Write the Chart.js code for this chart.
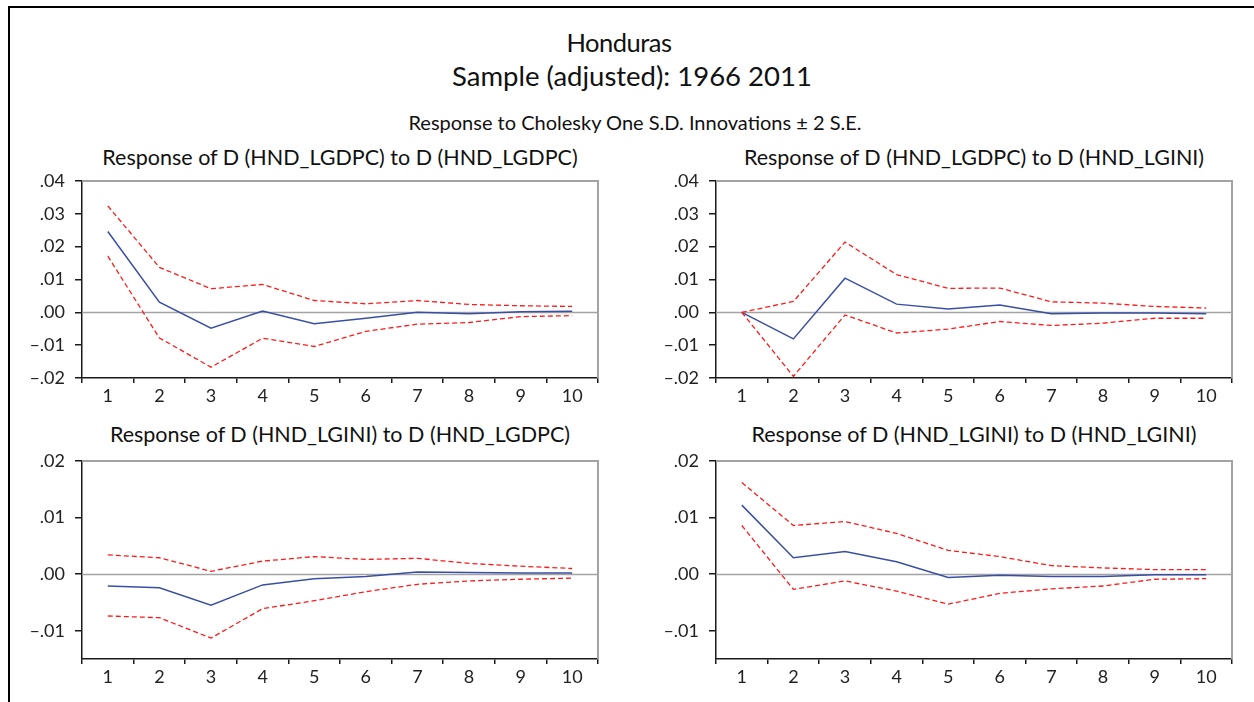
<!DOCTYPE html>
<html lang="en">
<head>
<meta charset="UTF-8">
<title>Honduras – Impulse responses</title>
<script src="https://cdn.jsdelivr.net/npm/chart.js"></script>
<style>
body{margin:0;width:1254px;height:702px;background:#fff;font-family:Lato,"Open Sans",sans-serif;color:#111;position:relative;overflow:hidden}
.frame{position:absolute;left:8px;top:6px;width:1300px;height:760px;border-left:2px solid #000;border-top:2px solid #000}
.txt{position:absolute;width:800px;text-align:center;white-space:nowrap}
.main{font-size:25.5px;line-height:30px;letter-spacing:-0.5px}
.sample{font-size:27.5px;line-height:30px}
.sub{font-size:20px;line-height:24px}
.ptitle{font-size:21.5px;line-height:26px}
canvas{position:absolute}
</style>
</head>
<body>
<div class="frame"></div>

<div class="txt main" style="left:219px;top:27px">Honduras</div>
<div class="txt sample" style="left:232px;top:61px">Sample (adjusted): 1966 2011</div>
<div class="txt sub" style="left:235px;top:110px">Response to Cholesky One S.D. Innovations ± 2 S.E.</div>

<div class="txt ptitle" style="left:-60px;top:144px">Response of D (HND_LGDPC) to D (HND_LGDPC)</div>
<div class="txt ptitle" style="left:574px;top:144px">Response of D (HND_LGDPC) to D (HND_LGINI)</div>
<div class="txt ptitle" style="left:-60px;top:421px">Response of D (HND_LGINI) to D (HND_LGDPC)</div>
<div class="txt ptitle" style="left:574px;top:421px">Response of D (HND_LGINI) to D (HND_LGINI)</div>

<canvas id="c1" width="620" height="240" style="left:0;top:170px"></canvas>
<canvas id="c2" width="620" height="240" style="left:634px;top:170px"></canvas>
<canvas id="c3" width="620" height="240" style="left:0;top:450px"></canvas>
<canvas id="c4" width="620" height="240" style="left:634px;top:450px"></canvas>

<script>
// horizon (periods after the shock)
const periods = ['1','2','3','4','5','6','7','8','9','10'];

// D(HND_LGDPC) to D(HND_LGDPC)
const gdpGdp    = [0.0246, 0.0031, -0.0048, 0.0004, -0.0035, -0.0018, 0.0000, -0.0004, 0.0002, 0.0003];
const gdpGdpUp  = [0.0324, 0.0137, 0.0072, 0.0085, 0.0036, 0.0026, 0.0036, 0.0024, 0.0020, 0.0018];
const gdpGdpLo  = [0.0171, -0.0078, -0.0167, -0.0079, -0.0104, -0.0058, -0.0036, -0.0031, -0.0013, -0.0010];

// D(HND_LGDPC) to D(HND_LGINI)
const gdpGini   = [0.0000, -0.0081, 0.0104, 0.0025, 0.0010, 0.0022, -0.0004, -0.0002, -0.0002, -0.0004];
const gdpGiniUp = [0.0000, 0.0033, 0.0214, 0.0115, 0.0073, 0.0074, 0.0032, 0.0028, 0.0018, 0.0013];
const gdpGiniLo = [0.0000, -0.0195, -0.0008, -0.0063, -0.0051, -0.0028, -0.0040, -0.0033, -0.0018, -0.0018];

// D(HND_LGINI) to D(HND_LGDPC)
const giniGdp   = [-0.0021, -0.0024, -0.0055, -0.0019, -0.0008, -0.0004, 0.0004, 0.0003, 0.0002, 0.0002];
const giniGdpUp = [0.0034, 0.0029, 0.0005, 0.0023, 0.0031, 0.0026, 0.0028, 0.0019, 0.0014, 0.0010];
const giniGdpLo = [-0.0074, -0.0077, -0.0113, -0.0061, -0.0047, -0.0031, -0.0018, -0.0012, -0.0009, -0.0007];

// D(HND_LGINI) to D(HND_LGINI)
const giniGini   = [0.0122, 0.0029, 0.0040, 0.0022, -0.0006, -0.0002, -0.0004, -0.0004, -0.0001, -0.0001];
const giniGiniUp = [0.0162, 0.0086, 0.0093, 0.0072, 0.0042, 0.0031, 0.0015, 0.0011, 0.0008, 0.0008];
const giniGiniLo = [0.0086, -0.0027, -0.0012, -0.0030, -0.0053, -0.0034, -0.0026, -0.0021, -0.0009, -0.0008];

// y tick values for the two rows
const yTicksGdp  = [-0.02, -0.01, 0.00, 0.01, 0.02, 0.03, 0.04];
const yTicksGini = [-0.01, 0.00, 0.01, 0.02];

const FONT = 'Lato, "Open Sans", sans-serif';
const AXIS = '#1a1a1a';
const GREY = '#a3a3a3';

// zero line plus the grey top/right edges of the plot box
const boxLines = {
  id: 'boxLines',
  beforeDatasetsDraw(chart){
    const {ctx, chartArea:a, scales:{y}} = chart;
    ctx.save();
    ctx.strokeStyle = GREY;
    ctx.lineWidth = 1.5;
    const y0 = Math.round(y.getPixelForValue(0)) + 0.5;
    ctx.beginPath(); ctx.moveTo(a.left, y0); ctx.lineTo(a.right, y0); ctx.stroke();
    ctx.lineWidth = 2;
    ctx.beginPath();
    ctx.moveTo(a.left, a.top); ctx.lineTo(a.right, a.top); ctx.lineTo(a.right, a.bottom);
    ctx.stroke();
    ctx.restore();
  }
};

// .04 / .00 / –.01 style labels
const fmt = v => {
  const s = Math.abs(v).toFixed(2).replace(/^0/, '');
  return v < -1e-9 ? '–' + s : s;
};

function panel(id, mid, up, lo, yMin, yMax, yTicks, xHeight){
  const red = d => ({data:d, borderColor:'#ff1a1a', borderWidth:1.3, borderDash:[5,3], pointRadius:0, fill:false, tension:0});
  new Chart(document.getElementById(id), {
    type: 'line',
    data: {
      labels: periods,
      datasets: [
        red(up),
        red(lo),
        {data:mid, borderColor:'#3a4fa3', borderWidth:1.5, pointRadius:0, fill:false, tension:0}
      ]
    },
    options: {
      responsive:false, animation:false, devicePixelRatio:1,
      layout:{padding:{top:11, right:22, bottom:0, left:0}},
      plugins:{legend:{display:false}, tooltip:{enabled:false}},
      scales:{
        x:{
          type:'category', offset:true,
          grid:{offset:true, drawOnChartArea:false, tickLength:5, color:AXIS, lineWidth:1.5},
          border:{color:AXIS, width:1.5},
          ticks:{color:'#222', font:{family:FONT, size:18}, padding:2, maxRotation:0, autoSkip:false},
          afterFit: s => { s.height = xHeight; s.paddingLeft = 0; s.paddingRight = 0; }
        },
        y:{
          min:yMin, max:yMax,
          afterBuildTicks: s => { s.ticks = yTicks.map(v => ({value:v})); },
          grid:{drawOnChartArea:false, tickLength:7, color:AXIS, lineWidth:1.5},
          border:{color:AXIS, width:1.5},
          ticks:{color:'#222', font:{family:FONT, size:18}, padding:10, callback: v => fmt(v)},
          afterFit: s => { s.width = 82; s.paddingTop = 0; s.paddingBottom = 0; }
        }
      }
    },
    plugins:[boxLines]
  });
}

panel('c1', gdpGdp,   gdpGdpUp,   gdpGdpLo,   -0.02,  0.04, yTicksGdp,  32);
panel('c2', gdpGini,  gdpGiniUp,  gdpGiniLo,  -0.02,  0.04, yTicksGdp,  32);
panel('c3', giniGdp,  giniGdpUp,  giniGdpLo,  -0.015, 0.02, yTicksGini, 31);
panel('c4', giniGini, giniGiniUp, giniGiniLo, -0.015, 0.02, yTicksGini, 31);
</script>
</body>
</html>
